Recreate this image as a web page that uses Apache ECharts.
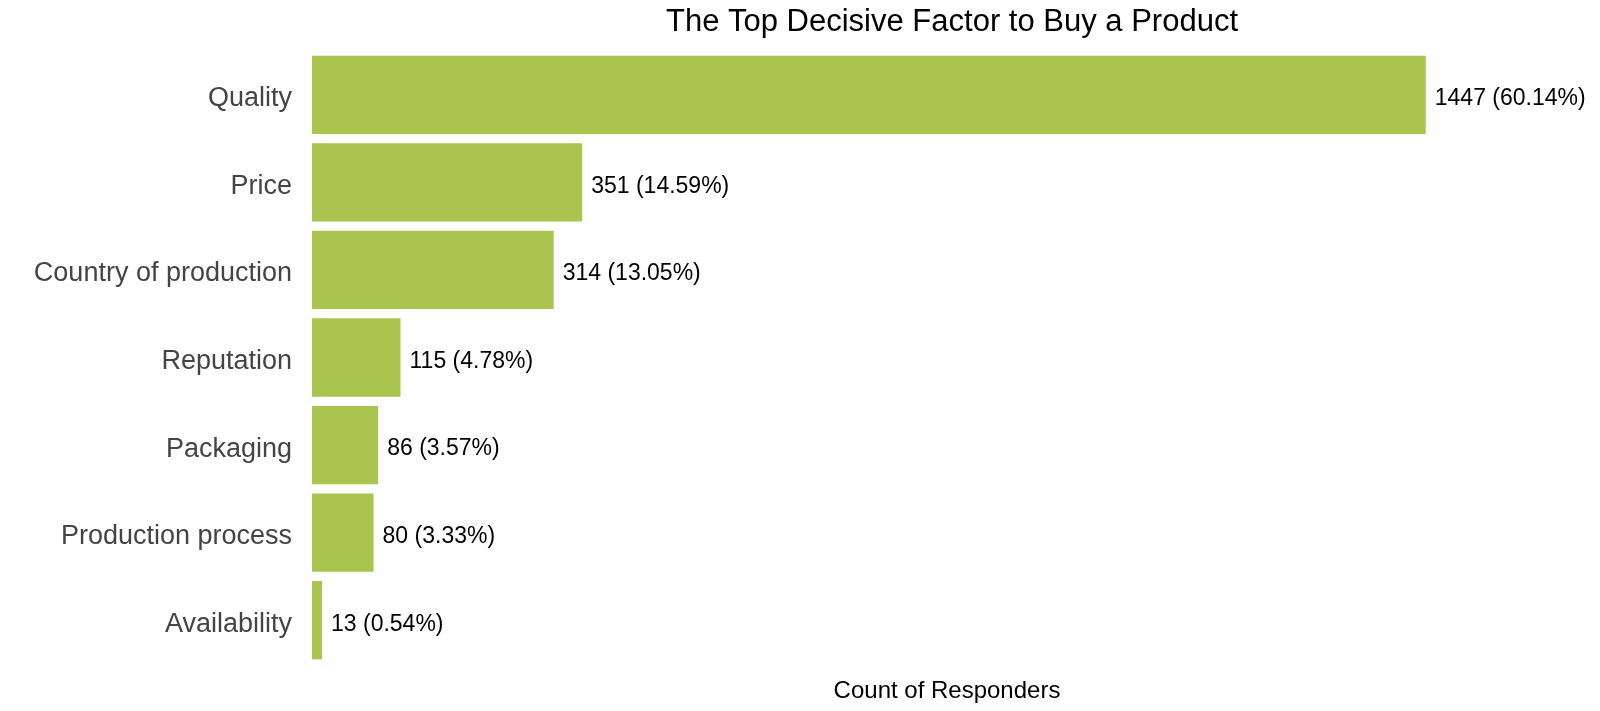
<!DOCTYPE html>
<html>
<head>
<meta charset="utf-8">
<script src="https://cdn.jsdelivr.net/npm/echarts@6/dist/echarts.min.js"></script>
<style>
  html, body { margin: 0; padding: 0; background: #fff; }
  #chart { width: 1600px; height: 711px; }
</style>
</head>
<body>
<div id="chart"></div>
<script>
'use strict';
const factors = ['Quality', 'Price', 'Country of production', 'Reputation', 'Packaging', 'Production process', 'Availability'];
const counts = [1447, 351, 314, 115, 86, 80, 13];
const shares = ['60.14', '14.59', '13.05', '4.78', '3.57', '3.33', '0.54'];

let instance = echarts.init(document.getElementById('chart'));
const fontFamily = '"Liberation Sans", Arial, sans-serif';

instance.setOption({
  animation: false,
  title: {
    text: 'The Top Decisive Factor to Buy a Product',
    left: 947,
    top: 2,
    textAlign: 'center',
    textStyle: { fontFamily: fontFamily, fontSize: 31, fontWeight: 'normal', color: '#000' }
  },
  grid: { left: 312, right: 18, top: 51, bottom: 47, containLabel: false },
  xAxis: {
    type: 'value',
    min: 0,
    max: 1650,
    name: 'Count of Responders',
    nameLocation: 'middle',
    nameGap: 15,
    nameTextStyle: { fontFamily: fontFamily, fontSize: 24, color: '#000', verticalAlign: 'top' },
    axisLine: { show: false },
    axisTick: { show: false },
    axisLabel: { show: false },
    splitLine: { show: false }
  },
  yAxis: {
    type: 'category',
    inverse: true,
    data: factors,
    axisLine: { show: false },
    axisTick: { show: false },
    axisLabel: {
      margin: 20,
      formatter: '{c|{value}}',
      rich: {
        c: { fontFamily: fontFamily, fontSize: 27, color: '#444', padding: [8, 0, 0, 0] }
      }
    },
    splitLine: { show: false }
  },
  series: [{
    name: 'Count',
    type: 'bar',
    data: counts,
    barCategoryGap: '10.6%',
    itemStyle: { color: '#a9c54f' },
    label: {
      show: true,
      position: 'right',
      distance: 9,
      offset: [0, 4],
      fontFamily: fontFamily,
      fontSize: 23,
      color: '#000',
      formatter: (p) => p.value + ' (' + shares[p.dataIndex] + '%)'
    }
  }]
});
window.onresize = () => {
  instance.resize();
};
</script>
</body>
</html>
